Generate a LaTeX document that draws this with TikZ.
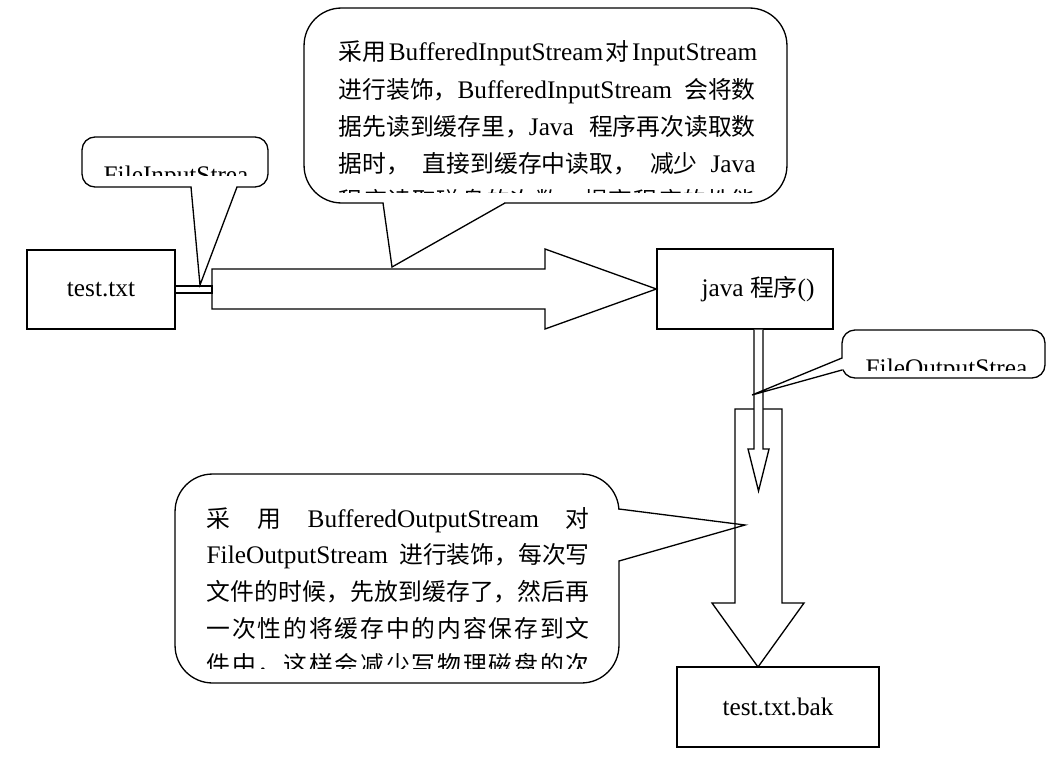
\documentclass[tikz,border=0pt]{standalone}
\usepackage{fontspec}
\setmainfont{Liberation Serif}[Ligatures=NoCommon]
\newfontfamily\zhfont{Noto Sans CJK SC}[Scale=0.94]
\newcommand{\zh}[1]{{\zhfont #1}}
\newcommand{\gap}{\hskip 0.1em plus 1fil}
\makeatletter
% spread a run of Chinese characters over the whole line
\newcommand{\zhspread}[1]{{\zhfont\@tfor\zhc:=#1\do{\zhc\hfil}\unskip}}
\makeatother
\newcommand{\txtsize}{\fontsize{14.4pt}{21pt}\selectfont}
\begin{document}
\begin{tikzpicture}[x=0.02cm, y=-0.02cm, line width=0.75pt, font=\txtsize,
    box/.style={draw, inner sep=0pt},
    bubble/.style={draw, fill=white, inner sep=0pt, rounded corners=#1},
    bubble/.default=0.26cm,
    textline/.style={anchor=base west, inner sep=0pt}]
    \useasboundingbox (0,0) rectangle (1064,757);

    % Drawing box test.txt
    \node[box, minimum width=2.96cm, minimum height=1.58cm] (txt) at (101,289.5) {test.txt};

    % Drawing box java
    \node[box, minimum width=3.52cm, minimum height=1.6cm] (java) at (745,289) {\hspace{0.52cm}java \zh{程序}()};

    % Drawing box test.txt.bak
    \node[box, minimum width=4.04cm, minimum height=1.6cm] (bak) at (778,707) {test.txt.bak};

    % Drawing callout BufferedOutputStream
    \node[bubble=0.75cm, minimum width=8.88cm, minimum height=4.18cm] (bobub) at (397,578.5) {};
    \coordinate (botip) at (745,525);
    \fill[white] (616,509.7) -- (619,509.7) -- (botip) -- (619,560.3) -- (616,560.3) -- cycle;
    \draw (619,509) -- (botip) -- (619,561);
    \begin{scope}
        \clip (175,474) rectangle (619,668);
        \foreach \t [count=\i] in {
            {\zh{采} \zh{用} BufferedOutputStream \zh{对}},
            {FileOutputStream \zh{进行装饰，每次写}},
            {\zhspread{文件的时候，先放到缓存了，然后再}},
            {\zhspread{一次性的将缓存中的内容保存到文}},
            {\zhspread{件中，这样会减少写物理磁盘的次}}}
            \node[textline] (botxt\i) at (206,{527+36.7*(\i-1)}) {\makebox[7.66cm][s]{\t}};
    \end{scope}

    % Drawing block arrow java -> test.txt.bak
    \draw (735,409) -- (782,409) -- (782,603) -- (804,603) -- (758,667) -- (712,603) -- (735,603) -- cycle;

    % Drawing block arrow test.txt -> java
    \draw (212,269) -- (545,269) -- (545,249) -- (java.west) -- (545,329) -- (545,309) -- (212,309) -- cycle;

    % Drawing connector at test.txt
    \draw (txt.east |- 0,286) rectangle (212,293);

    % Drawing small arrow below java
    \draw[fill=white] (java.south -| 754,0) -- (754,449) -- (748,449) -- (758.5,491) -- (769,449) -- (763,449) -- (java.south -| 763,0);

    % Drawing callout FileInputStream
    \node[bubble, minimum width=3.72cm, minimum height=1cm] (inbub) at (175,162) {};
    \coordinate (intip) at (200,285);
    \fill[white] (191.7,184) -- (191.7,187) -- (intip) -- (236.3,187) -- (236.3,184) -- cycle;
    \draw (191,187) -- (intip) -- (237,187);
    \begin{scope}
        \clip (82,137) rectangle (268,175);
        \node[textline] (intxt) at (103,183) {FileInputStrea};
    \end{scope}

    % Drawing callout BufferedInputStream
    \node[bubble=0.75cm, minimum width=9.66cm, minimum height=3.9cm] (bibub) at (545.5,105.5) {};
    \coordinate (bitip) at (392,267);
    \fill[white] (383.7,199) -- (383.7,203) -- (bitip) -- (504.3,203) -- (504.3,199) -- cycle;
    \draw (383,203) -- (bitip) -- (505,203);
    \begin{scope}
        \clip (304,8) rectangle (787,192);
        \foreach \t [count=\i] in {
            {\zh{采用}\gap BufferedInputStream\gap\zh{对}\gap InputStream},
            {\zh{进行装饰，}BufferedInputStream \zh{会将数}},
            {\zh{据先读到缓存里，}Java \zh{程序再次读取数}},
            {\zh{据时，} \zh{直接到缓存中读取，} \zh{减少} Java},
            {\zhspread{程序读取磁盘的次数，提高程序的性能}}}
            \node[textline] (bitxt\i) at (338,{61+37.2*(\i-1)}) {\makebox[8.34cm][s]{\t}};
    \end{scope}

    % Drawing callout FileOutputStream
    \node[bubble, minimum width=4.06cm, minimum height=0.96cm] (outbub) at (943.5,354) {};
    \coordinate (outtip) at (752,395);
    \fill[white] (844,358.7) -- (842,358.7) -- (outtip) -- (842,369.3) -- (844,369.3) -- cycle;
    \draw (842,358) -- (outtip) -- (842,370);
    \begin{scope}
        \clip (842,330) rectangle (1045,370);
        \node[textline] (outtxt) at (865,376) {FileOutputStrea};
    \end{scope}
\end{tikzpicture}
\end{document}
